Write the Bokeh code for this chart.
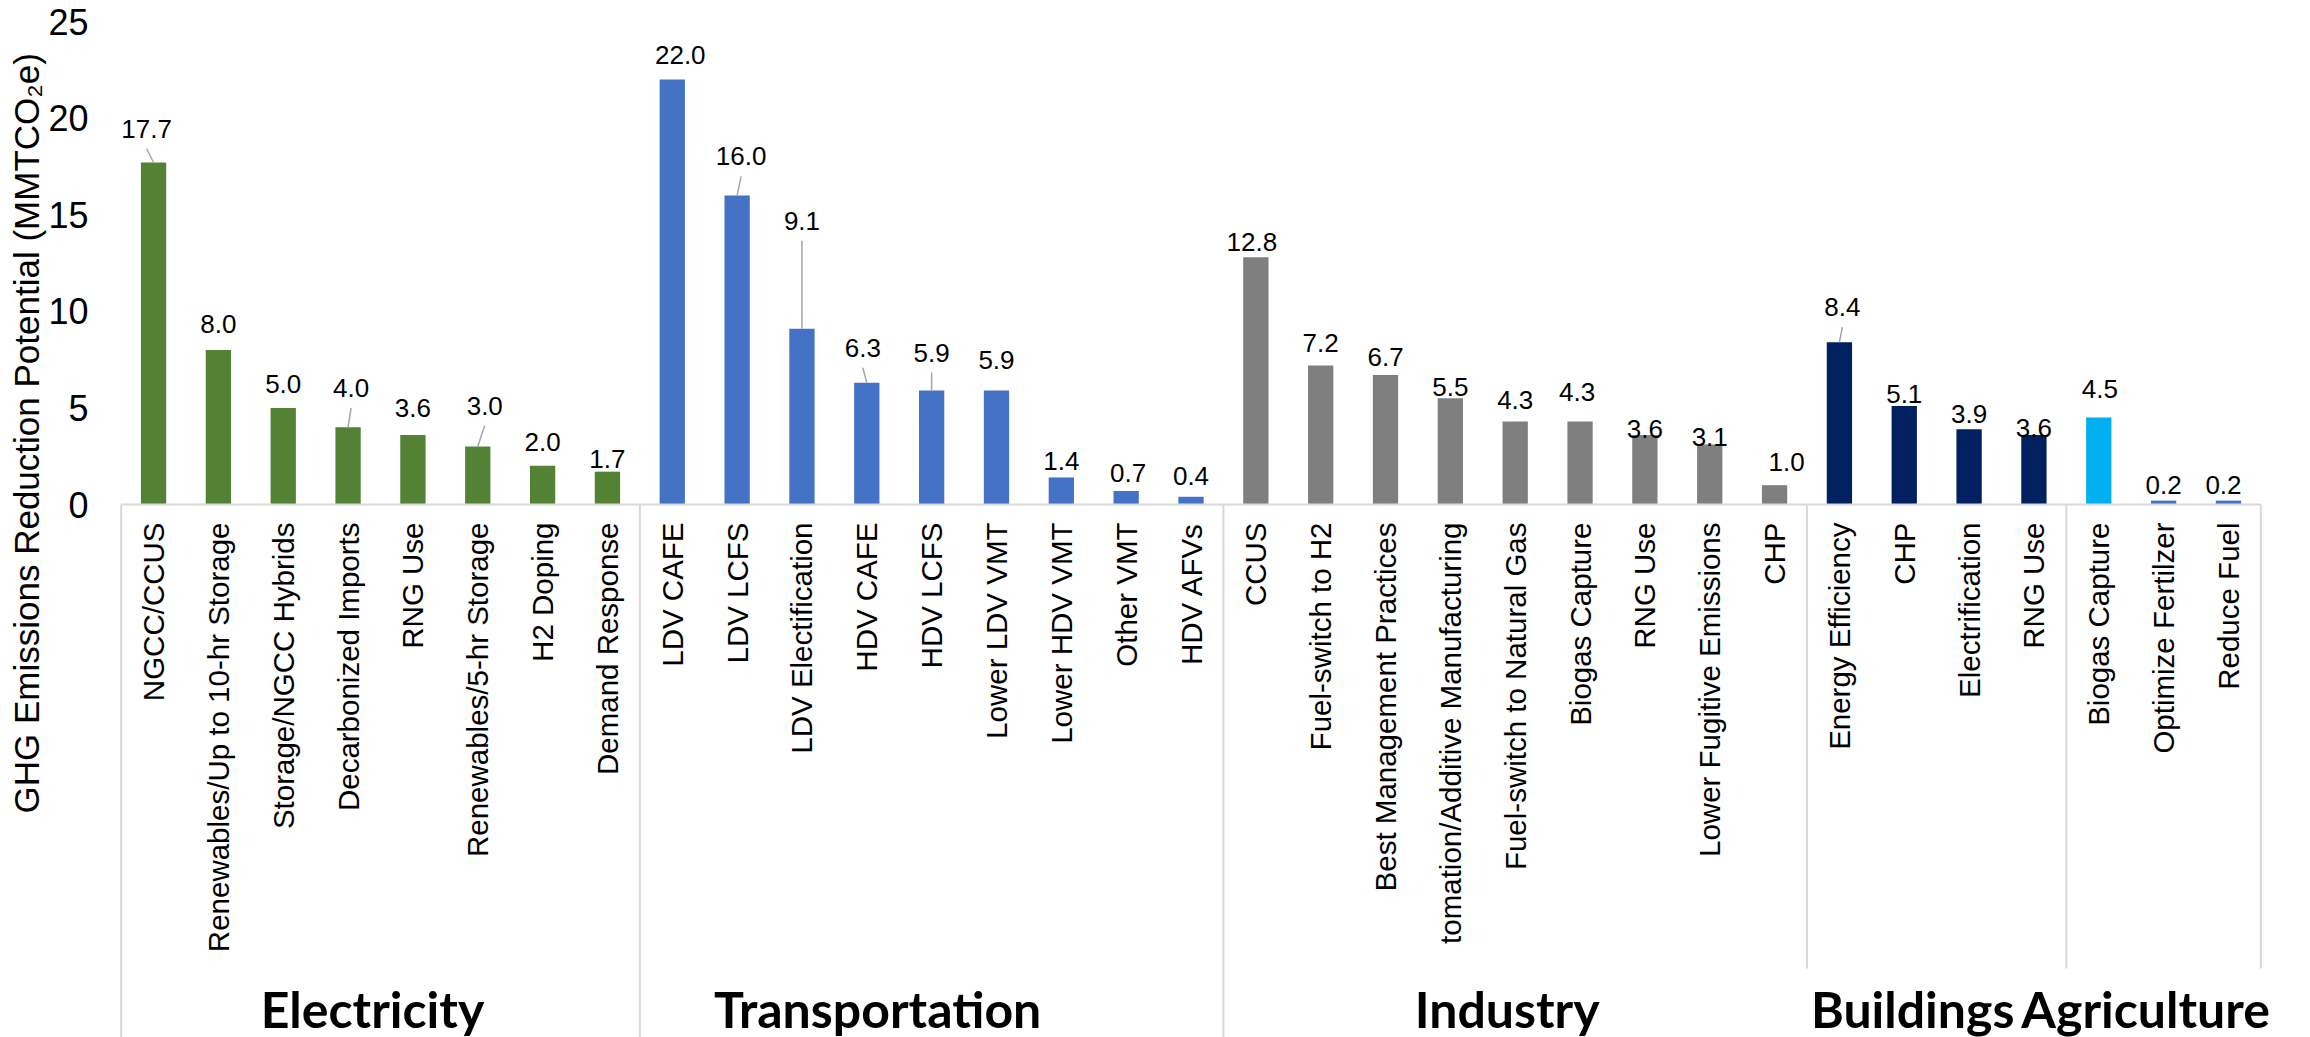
import math
from bokeh.plotting import figure
from bokeh.models import FactorRange, Range1d, ColumnDataSource, FixedTicker, Title
from bokeh.embed import file_html
from bokeh.resources import INLINE
from bokeh.core.properties import value

# ---------------- data ----------------
sectors = ["Electricity", "Transportation", "Industry", "Buildings", "Agriculture"]

electricity_measures = ["NGCC/CCUS", "Renewables/Up to 10-hr Storage", "Storage/NGCC Hybrids",
                        "Decarbonized Imports", "RNG Use", "Renewables/5-hr Storage", "H2 Doping",
                        "Demand Response"]
electricity_values = [17.7, 8.0, 5.0, 4.0, 3.6, 3.0, 2.0, 1.7]

transportation_measures = ["LDV CAFE", "LDV LCFS", "LDV Electification", "HDV CAFE", "HDV LCFS",
                           "Lower LDV VMT", "Lower HDV VMT", "Other VMT", "HDV AFVs"]
transportation_values = [22.0, 16.0, 9.1, 6.3, 5.9, 5.9, 1.4, 0.7, 0.4]

industry_measures = ["CCUS", "Fuel-switch to H2", "Best Management Practices",
                     "Automation/Additive Manufacturing", "Fuel-switch to Natural Gas",
                     "Biogas Capture", "RNG Use", "Lower Fugitive Emissions", "CHP"]
industry_values = [12.8, 7.2, 6.7, 5.5, 4.3, 4.3, 3.6, 3.1, 1.0]

buildings_measures = ["Energy Efficiency", "CHP", "Electrification", "RNG Use"]
buildings_values = [8.4, 5.1, 3.9, 3.6]

agriculture_measures = ["Biogas Capture", "Optimize Fertilzer", "Reduce Fuel"]
agriculture_values = [4.5, 0.2, 0.2]

y_ticks = [0, 5, 10, 15, 20, 25]
y_title = "GHG Emissions Reduction Potential  (MMTCO\u2082e)"

# ---------------- styles / layout ----------------
sector_colors = {
    "Electricity": ["#548235"] * 8,
    "Transportation": ["#4472C4"] * 9,
    "Industry": ["#7F7F7F"] * 9,
    "Buildings": ["#002060"] * 4,
    "Agriculture": ["#00B0F0", "#4472C4", "#4472C4"],
}
# the long label is cut off at the group-label row in the original
display_override = {"Automation/Additive Manufacturing": "tomation/Additive Manufacturing"}

# data-label placement (px): horizontal shift, height of label centre above bar top, leader line
label_dx = [-7, 0, 0, 3, 0, 7, 0, 0,
            8, 4, 0, -4, 0, 0, 0, 2, 0,
            -4, 0, 0, 0, 0, -3, 0, 0, 12,
            3, 0, 0, 0,
            1, 0, -5]
label_dy = [34, 26, 24, 39, 27, 41, 24, 13,
            24, 39, 108, 35, 38, 31, 16, 18, 21,
            15, 22, 18, 11, 21, 29, 6, 8, 23,
            35, 12, 15, 7,
            29, 16, 16]
leader = [1, 0, 0, 1, 0, 1, 0, 0,
          0, 1, 1, 1, 1, 0, 0, 0, 0,
          0, 0, 0, 0, 0, 0, 0, 0, 0,
          1, 0, 0, 0,
          0, 0, 0]
group_label_dx = [-8, -54, -8, -24, -18]
long_separator = [True, True, True, False, False, False]

FIG_W, FIG_H = 2310, 1037
PAD = 0.75                        # extra category slots on each side (room for group labels)
LEFT, RIGHT, TOP = 72, 1, 21
PPU = 19.32                       # pixels per unit on the y scale
Y_MAX = 25
ZERO_PX = TOP + Y_MAX * PPU       # px of value 0
Y_BOTTOM = -(FIG_H - ZERO_PX) / PPU


def px_below_zero(py):
    return -(py - ZERO_PX) / PPU


# ---------------- build ----------------
measures_by_sector = [electricity_measures, transportation_measures, industry_measures,
                      buildings_measures, agriculture_measures]
values_by_sector = [electricity_values, transportation_values, industry_values,
                    buildings_values, agriculture_values]

factors, vals, colors, shown = [], [], [], []
for s, ms, vs in zip(sectors, measures_by_sector, values_by_sector):
    for m, v, c in zip(ms, vs, sector_colors[s]):
        factors.append((s, m))
        vals.append(v)
        colors.append(c)
        shown.append(display_override.get(m, m))

n = len(factors)
slot_px = (FIG_W - LEFT - RIGHT) / (n + 2 * PAD)

p = figure(width=FIG_W, height=FIG_H,
           x_range=FactorRange(*factors, factor_padding=0, group_padding=0,
                               subgroup_padding=0, range_padding=PAD,
                               range_padding_units="absolute"),
           y_range=Range1d(Y_BOTTOM, Y_MAX),
           x_axis_location=None, toolbar_location=None, output_backend="svg",
           min_border_left=LEFT, min_border_right=RIGHT, min_border_top=TOP,
           min_border_bottom=0)
p.outline_line_color = None
p.xgrid.visible = False
p.ygrid.visible = False
p.background_fill_color = "white"
p.border_fill_color = "white"

ya = p.yaxis[0]
ya.ticker = FixedTicker(ticks=y_ticks)
ya.bounds = (0, Y_MAX)
ya.axis_line_color = None
ya.major_tick_line_color = None
ya.minor_tick_line_color = None
ya.major_tick_out = 0
ya.major_tick_in = 0
ya.major_label_standoff = -16
ya.major_label_text_font = "Liberation Sans"
ya.major_label_text_font_size = "36px"
ya.major_label_text_color = "black"

# y-axis title (sits lower than the axis middle in the original)
p.add_layout(Title(text=y_title, align="left", offset=FIG_H - 813, standoff=0,
                   text_font="Liberation Sans", text_font_size="35px",
                   text_font_style="normal", text_color="black"), "left")

# bars
src = ColumnDataSource(dict(x=factors, top=vals, color=colors))
p.vbar(x="x", top="top", width=0.39, bottom=0, source=src, fill_color="color",
       line_color=None)

# category axis baseline
p.segment(x0=[0], y0=[0], x1=[n], y1=[0], line_color="#D9D9D9", line_width=2)

# data labels
lab_y = [v + dy / PPU for v, dy in zip(vals, label_dy)]
lsrc = ColumnDataSource(dict(x=factors, y=lab_y, text=["%.1f" % v for v in vals], dx=label_dx))
p.text(x="x", y="y", text="text", x_offset="dx", source=lsrc, text_align="center",
       text_baseline="middle", text_font=value("Liberation Sans"),
       text_font_size="26px", text_color="black")

# leader lines
lx0, ly0, lx1, ly1 = [], [], [], []
for i, (v, dx, dy, f) in enumerate(zip(vals, label_dx, label_dy, leader)):
    if f:
        lx0.append(i + 0.5 + dx / slot_px)
        ly0.append(v + (dy - 20) / PPU)
        lx1.append(i + 0.5)
        ly1.append(v)
p.segment(x0=lx0, y0=ly0, x1=lx1, y1=ly1, line_color="#A6A6A6", line_width=1.5)

# category labels (rotated)
csrc = ColumnDataSource(dict(x=factors, text=shown))
p.text(x="x", y=px_below_zero(ZERO_PX + 18), text="text", source=csrc, angle=math.pi / 2,
       text_align="right", text_baseline="middle", text_font=value("Liberation Sans"),
       text_font_size="29.5px", text_color="black")

# group separators and group labels
counts = [len(m) for m in measures_by_sector]
bounds = [0]
for c in counts:
    bounds.append(bounds[-1] + c)
short_end = px_below_zero(968)
sep_y1 = [Y_BOTTOM if lg else short_end for lg in long_separator]
p.segment(x0=bounds, y0=[0] * len(bounds), x1=bounds, y1=sep_y1,
          line_color="#D9D9D9", line_width=2)

centers = [(bounds[i] + bounds[i + 1]) / 2 for i in range(len(sectors))]
gsrc = ColumnDataSource(dict(x=centers, text=sectors, dx=group_label_dx))
p.text(x="x", y=px_below_zero(1008), text="text", x_offset="dx", source=gsrc,
       text_align="center", text_baseline="middle", text_font=value("Lato"),
       text_font_style="bold", text_font_size="50px", text_color="black")

open("out.html", "w").write(file_html(p, INLINE))
